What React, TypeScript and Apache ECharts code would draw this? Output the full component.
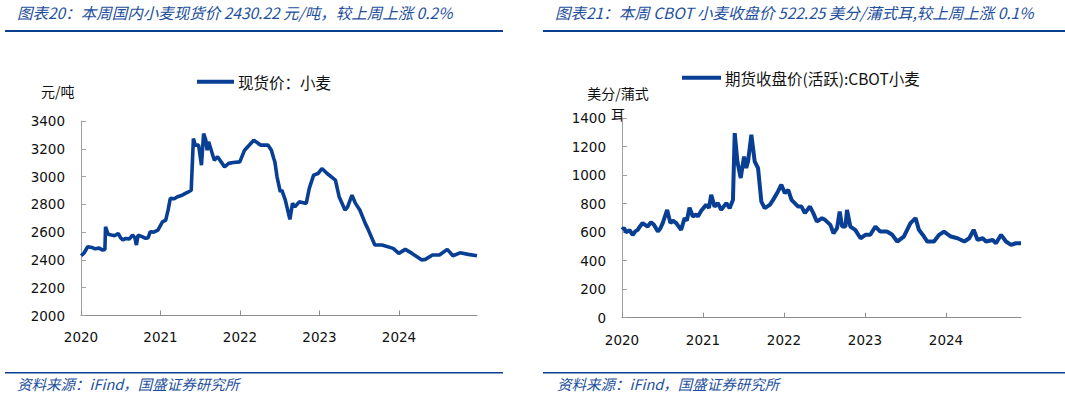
import React, { useEffect, useRef } from "react";
import * as echarts from "echarts";

const leftDates = [
  "2020-01-02","2020-01-15","2020-02-01","2020-02-20","2020-03-05","2020-03-25","2020-04-10","2020-04-20","2020-04-23",
  "2020-05-05","2020-05-20","2020-06-05","2020-06-20","2020-07-01","2020-07-12","2020-07-25","2020-08-10","2020-08-25",
  "2020-09-05","2020-09-12","2020-09-20","2020-10-05","2020-10-25","2020-11-05","2020-11-15","2020-12-01","2020-12-20",
  "2021-01-10","2021-01-25","2021-02-05","2021-02-15","2021-03-05","2021-03-20","2021-04-10","2021-04-25","2021-05-10",
  "2021-05-22","2021-06-01","2021-06-10","2021-06-25","2021-07-08","2021-07-18","2021-07-28","2021-08-03","2021-08-10",
  "2021-09-05","2021-09-20","2021-10-22","2021-11-10","2021-12-01","2021-12-31","2022-01-22","2022-03-05","2022-03-25",
  "2022-04-05","2022-05-10","2022-05-25","2022-06-05","2022-06-10","2022-06-20","2022-07-05","2022-07-12","2022-07-28",
  "2022-08-18","2022-08-30","2022-09-10","2022-09-30","2022-11-01","2022-11-15","2022-12-05","2022-12-25","2023-01-12",
  "2023-02-05","2023-03-15","2023-04-01","2023-04-28","2023-05-10","2023-05-30","2023-06-15","2023-07-05","2023-07-30",
  "2023-08-10","2023-09-12","2023-10-15","2023-12-05","2023-12-31","2024-01-30","2024-03-01","2024-04-15","2024-05-01",
  "2024-06-03","2024-07-05","2024-08-10","2024-09-05","2024-10-08","2024-11-15","2024-12-25"
];
const leftValues = [
  2430,2450,2495,2490,2480,2485,2471,2475,2639,
  2585,2580,2575,2591,2560,2543,2555,2550,2579,
  2560,2507,2579,2570,2555,2560,2603,2600,2615,
  2674,2687,2760,2843,2840,2855,2865,2879,2890,
  2902,3274,3226,3226,3082,3310,3262,3190,3250,
  3118,3142,3070,3095,3101,3106,3190,3262,3240,
  3226,3226,3190,3130,3106,2998,2890,2902,2830,
  2692,2807,2782,2818,2807,2915,3010,3022,3058,
  3022,2974,2855,2759,2782,2866,2807,2759,2663,
  2627,2507,2507,2483,2447,2476,2447,2399,2404,
  2435,2435,2476,2430,2451,2440,2430.22
];

const rightDates = [
  "2020-01-02","2020-01-10","2020-01-19","2020-02-05","2020-02-18","2020-03-01","2020-03-12","2020-03-22","2020-04-03",
  "2020-04-26","2020-05-11","2020-05-25","2020-06-11","2020-06-22","2020-07-03","2020-07-23","2020-08-07","2020-08-18",
  "2020-09-02","2020-09-24","2020-10-10","2020-10-20","2020-11-01","2020-11-16","2020-12-01","2020-12-09","2020-12-24",
  "2021-01-15","2021-01-28","2021-02-07","2021-02-22","2021-03-09","2021-03-24","2021-04-16","2021-05-01","2021-05-16",
  "2021-05-24","2021-06-05","2021-06-20","2021-07-05","2021-07-15","2021-07-23","2021-08-07","2021-08-22","2021-09-06",
  "2021-09-21","2021-10-06","2021-10-29","2021-11-13","2021-12-05","2021-12-20","2022-01-05","2022-01-20","2022-02-04",
  "2022-03-06","2022-03-21","2022-04-05","2022-04-28","2022-05-13","2022-05-29","2022-06-21","2022-07-05","2022-07-29",
  "2022-08-12","2022-08-28","2022-09-09","2022-09-20","2022-10-05","2022-10-12","2022-10-27","2022-11-18","2022-12-12",
  "2023-01-03","2023-01-25","2023-02-17","2023-03-11","2023-04-10","2023-05-04","2023-05-26","2023-06-25","2023-07-25",
  "2023-08-17","2023-09-01","2023-09-24","2023-10-09","2023-11-08","2023-12-01","2023-12-23","2024-01-23","2024-02-22",
  "2024-03-24","2024-04-15","2024-05-05","2024-05-23","2024-06-15","2024-06-30","2024-07-30","2024-08-14","2024-09-06",
  "2024-09-28","2024-10-21","2024-11-12","2024-12-05"
];
const rightValues = [
  616,630,600,612,580,605,616,640,663,
  639,670,650,604,625,663,756,663,680,
  663,616,698,680,772,709,725,709,749,
  791,770,861,779,803,756,803,768,826,
  1294,1095,979,1130,1049,1095,1283,1095,1049,
  814,768,791,826,885,932,873,896,826,
  779,779,733,779,733,674,698,686,651,
  592,628,744,639,639,756,639,616,557,
  581,581,639,604,604,581,534,569,663,
  698,616,569,534,534,581,604,569,557,
  534,557,616,545,557,534,545,522,581,
  534,510,522,522.25
];

const yearTicks = [2020, 2021, 2022, 2023, 2024];
const leftYTicks = { min: 2000, max: 3400, interval: 200 };
const rightYTicks = { min: 0, max: 1400, interval: 200 };

const leftTitle = "图表20：本周国内小麦现货价 2430.22 元/吨，较上周上涨 0.2%";
const rightTitle = "图表21：本周 CBOT 小麦收盘价 522.25 美分/蒲式耳,较上周上涨 0.1%";
const sourceText = "资料来源：iFind，国盛证券研究所";
const leftSeriesName = "现货价：小麦";
const rightSeriesName = "期货收盘价(活跃):CBOT小麦";
const leftUnit = "元/吨";
const rightUnit = "美分/蒲式\n耳";

const toYear = (s: string) => {
  const t = Date.parse(s + "T00:00:00Z");
  const y = new Date(t).getUTCFullYear();
  const a = Date.UTC(y, 0, 1);
  const b = Date.UTC(y + 1, 0, 1);
  return y + (t - a) / (b - a);
};

const LINE = "#083f95";
const TITLE = "#1d4f9c";
const RULE = "#0c3f8f";
const FONT = '"DejaVu Sans", Verdana, sans-serif';
const CJK = '"Noto Sans CJK SC", sans-serif';

export default function App() {
  const ref = useRef<HTMLDivElement>(null);
  useEffect(() => {
    if (!ref.current) return;
    const chart = echarts.init(ref.current, undefined, { renderer: "svg" });
    const leftData = leftDates.map((d, i) => [toYear(d), leftValues[i]]);
    const rightData = rightDates.map((d, i) => [toYear(d), rightValues[i]]);
    const leftMax = leftData[leftData.length - 1][0];
    const rightMax = rightData[rightData.length - 1][0];

    const xAxisBase = (gridIndex: number, max: number, margin: number) => ({
      type: "value",
      gridIndex,
      min: 2020,
      max,
      splitLine: { show: false },
      axisLine: { show: true, lineStyle: { color: "#8c8c8c", width: 1 } },
      axisTick: { show: true, inside: true, length: 5, customValues: yearTicks, lineStyle: { color: "#8c8c8c" } },
      axisLabel: {
        customValues: yearTicks,
        formatter: (v: number) => String(Math.round(v)),
        color: "#111",
        fontSize: 13.5,
        fontFamily: FONT,
        margin,
      },
    });
    const yAxisBase = (gridIndex: number, t: any, margin: number) => ({
      type: "value",
      gridIndex,
      min: t.min,
      max: t.max,
      interval: t.interval,
      splitLine: { show: false },
      axisLine: { show: true, lineStyle: { color: "#a0a0a0", width: 1 } },
      axisTick: { show: true, inside: true, length: 5, lineStyle: { color: "#a0a0a0" } },
      axisLabel: {
        color: "#111",
        fontSize: 13.5,
        fontFamily: FONT,
        margin,
        formatter: (v: number) => String(v),
      },
    });

    chart.setOption({
      animation: false,
      backgroundColor: "#fff",
      grid: [
        { left: 81, top: 121, width: 396, height: 194.5 },
        { left: 622, top: 118, width: 399, height: 199.7 },
      ],
      xAxis: [xAxisBase(0, leftMax, 14), xAxisBase(1, rightMax, 15)],
      yAxis: [yAxisBase(0, leftYTicks, 16), yAxisBase(1, rightYTicks, 16)],
      legend: [
        {
          data: [leftSeriesName],
          left: 197,
          top: 74,
          padding: 0,
          icon: "rect",
          itemWidth: 37,
          itemHeight: 4,
          itemGap: 4,
          textStyle: { fontSize: 15.5, fontFamily: CJK, color: "#111", padding: [0, 0, 0, -1] },
        },
        {
          data: [rightSeriesName],
          left: 682,
          top: 70,
          padding: 0,
          icon: "rect",
          itemWidth: 39,
          itemHeight: 4,
          itemGap: 4,
          textStyle: { fontSize: 15.5, fontFamily: CJK, color: "#111", padding: [0, 0, 0, -1] },
        },
      ],
      series: [
        {
          name: leftSeriesName,
          type: "line",
          xAxisIndex: 0,
          yAxisIndex: 0,
          data: leftData,
          showSymbol: false,
          symbol: "none",
          lineStyle: { color: LINE, width: 3.6 },
          itemStyle: { color: LINE },
        },
        {
          name: rightSeriesName,
          type: "line",
          xAxisIndex: 1,
          yAxisIndex: 1,
          data: rightData,
          showSymbol: false,
          symbol: "none",
          lineStyle: { color: LINE, width: 4 },
          itemStyle: { color: LINE },
        },
      ],
      graphic: [
        { type: "text", left: 17, top: 4, style: { text: leftTitle, font: `italic 15.5px ${CJK}`, fill: TITLE } },
        { type: "text", left: 555, top: 4, style: { text: rightTitle, font: `italic 15.5px ${CJK}`, fill: TITLE } },
        { type: "rect", shape: { x: 5, y: 30, width: 498, height: 2 }, style: { fill: RULE } },
        { type: "rect", shape: { x: 543, y: 30, width: 522, height: 2 }, style: { fill: RULE } },
        { type: "rect", shape: { x: 5, y: 372, width: 498, height: 1.5 }, style: { fill: RULE } },
        { type: "rect", shape: { x: 543, y: 372, width: 522, height: 1.5 }, style: { fill: RULE } },
        { type: "text", left: 17, top: 376, style: { text: sourceText, font: `italic 14.5px ${CJK}`, fill: TITLE } },
        { type: "text", left: 557, top: 376, style: { text: sourceText, font: `italic 14.5px ${CJK}`, fill: TITLE } },
        { type: "text", left: 41, top: 84, style: { text: leftUnit, font: `14px ${CJK}`, fill: "#111" } },
        {
          type: "text",
          x: 618,
          y: 82,
          style: { text: rightUnit, font: `14px ${CJK}`, fill: "#111", align: "center", lineHeight: 21 },
        },
      ],
    });
    return () => chart.dispose();
  }, []);
  return <div ref={ref} style={{ position: "fixed", left: 0, top: 0, width: 1065, height: 398 }} />;
}
